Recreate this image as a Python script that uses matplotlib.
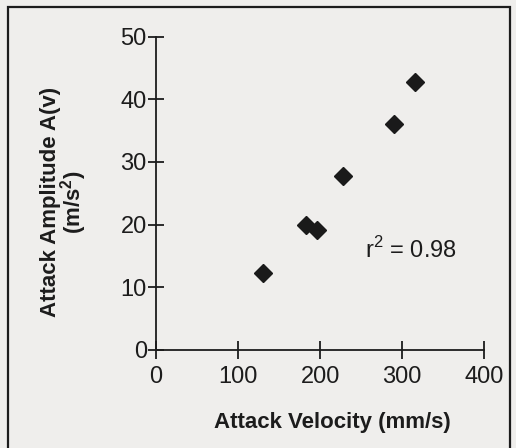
import matplotlib.pyplot as plt
from matplotlib.patches import Rectangle

# attack velocity (mm/s) vs attack amplitude (m/s^2)
velocity = [131, 183, 196, 228, 290, 316]
amplitude = [12.2, 19.9, 19.1, 27.8, 36.0, 42.8]
x_ticks = [0, 100, 200, 300, 400]
y_ticks = [0, 10, 20, 30, 40, 50]
r2_text = 'r$^2$ = 0.98'

plt.rcParams['font.family'] = ['Liberation Sans', 'DejaVu Sans']
plt.rcParams['mathtext.fontset'] = 'custom'
plt.rcParams['mathtext.rm'] = 'Liberation Sans'
plt.rcParams['mathtext.bf'] = 'Liberation Sans:bold'

paper = '#efeeec'
ink = '#1c1c1c'

fig = plt.figure(figsize=(5.16, 4.48), dpi=100, facecolor=paper)
ax = fig.add_axes([0.302, 0.219, 0.6366, 0.699])
ax.set_facecolor(paper)

# frame round the whole figure (scanned page box)
fig.patches.append(Rectangle((8 / 516, -0.05), 502 / 516, 1.05 - 7 / 448,
                             transform=fig.transFigure, fill=False,
                             edgecolor=ink, linewidth=1.6))

ax.plot(velocity, amplitude, linestyle='none', marker='D', markersize=9.5,
        color='#1a1a1a')

ax.text(255, 16, r2_text, fontsize=17, color=ink, va='center')

ax.set_xlim(0, 400)
ax.set_ylim(0, 50)
ax.set_xticks(x_ticks)
ax.set_yticks(y_ticks)
for s in ['top', 'right']:
    ax.spines[s].set_visible(False)
for s in ['left', 'bottom']:
    ax.spines[s].set_color(ink)
    ax.spines[s].set_linewidth(1.3)
ax.tick_params(axis='y', direction='inout', length=11, width=1.3, pad=1,
               labelsize=17, colors=ink)
ax.tick_params(axis='x', direction='inout', length=13, width=1.3, pad=5,
               labelsize=17, colors=ink)

fig.text(0.098, 0.549, 'Attack Amplitude A(v)', rotation=90, fontsize=16,
         fontweight='bold', color=ink, ha='center', va='center')
fig.text(0.143, 0.549, r'(m/s$^\mathbf{2}$)', rotation=90, fontsize=16,
         fontweight='bold', color=ink, ha='center', va='center')
fig.text(0.645, 0.056, 'Attack Velocity (mm/s)', fontsize=16,
         fontweight='bold', color=ink, ha='center', va='center')

fig.savefig('out.png', dpi=100, facecolor=paper)
